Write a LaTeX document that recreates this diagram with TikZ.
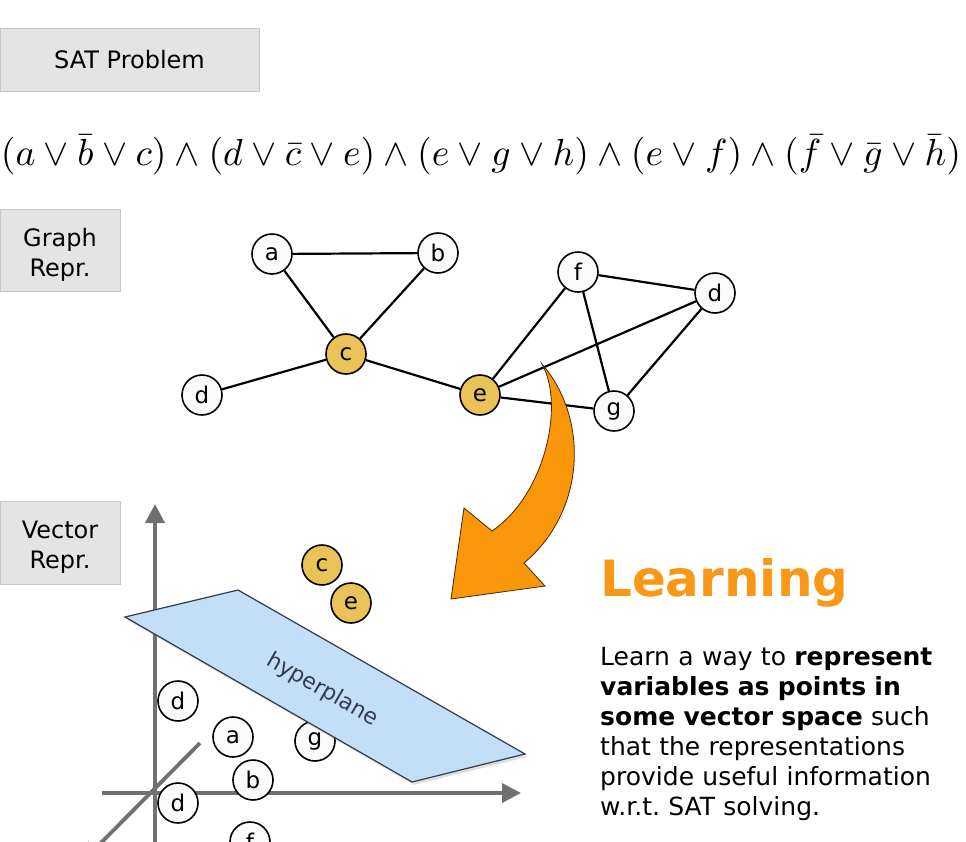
\documentclass[tikz,border=0pt]{standalone}
\usepackage[no-math]{fontspec}
\setmainfont{DejaVu Sans}
\usepackage{amsmath}
\usepackage{amssymb}
\usepackage{graphicx}
\usetikzlibrary{arrows.meta,shadows}
\definecolor{boxgray}{RGB}{228,228,228}
\definecolor{boxline}{RGB}{200,200,200}
\definecolor{gold}{RGB}{233,194,88}
\definecolor{learnorange}{RGB}{248,152,22}
\definecolor{arroworange}{RGB}{250,150,10}
\definecolor{planeblue}{RGB}{195,222,247}
\definecolor{planeline}{RGB}{50,60,75}
\definecolor{axisgray}{RGB}{112,112,112}

\begin{document}
\begin{tikzpicture}[
		x=1pt, y=-1pt,
		var/.style={circle, draw, line width=1.6pt, minimum size=40pt, inner sep=0pt, fill=black!2, font=\fontsize{23}{23}\selectfont},
		hot/.style={var, fill=gold},
		tag/.style={rectangle, draw=boxline, fill=boxgray, line width=1pt, inner sep=0pt, align=center, font=\fontsize{24}{30}\selectfont},
		link/.style={line width=2.2pt},
		axis/.style={draw=axisgray, line width=3.8pt, -{Triangle[length=19pt, width=19pt]}}
	]
  \clip (0,0) rectangle (966,841);
  \node (sat_tag) [tag, minimum width=259pt, minimum height=63pt] at (129.5, 59.5) {SAT Problem};
  \node (graph_tag) [tag, minimum width=120pt, minimum height=82pt] at (60, 250) {\begin{tabular}{@{}c@{}}\rule{0pt}{32pt}Graph\\Repr.\end{tabular}};
  \node (vector_tag) [tag, minimum width=120pt, minimum height=83pt] at (60, 542.5) {\begin{tabular}{@{}c@{}}\rule{0pt}{31pt}Vector\\Repr.\end{tabular}};
  \node (formula) at (481, 155) {\resizebox{960pt}{!}{$(a \vee \bar{b} \vee c) \wedge (d \vee \bar{c} \vee e) \wedge (e \vee g \vee h) \wedge (e \vee f) \wedge (\bar{f} \vee \bar{g} \vee \bar{h})$}};

  \node (g_a) [var] at (272, 254) {a};
  \node (g_b) [var] at (438, 253) {b};
  \node (g_c) [hot] at (346, 354) {c};
  \node (g_d) [var] at (202, 395) {d};
  \node (g_e) [hot] at (480, 395) {e};
  \node (g_f) [var] at (578, 272) {f};
  \node (g_d2) [var] at (715, 293) {d};
  \node (g_g) [var] at (614, 411) {g};
  \draw [link] (g_a) -- (g_b) (g_a) -- (g_c) (g_b) -- (g_c) (g_d) -- (g_c) (g_c) -- (g_e);
  \draw [link] (g_e) -- (g_f) (g_e) -- (g_d2) (g_e) -- (g_g) (g_f) -- (g_d2) (g_f) -- (g_g) (g_d2) -- (g_g);

  \filldraw [fill=arroworange, draw=black!70!orange, line width=0.8pt]
    (542, 364) .. controls (590, 420) and (585, 512) .. (524, 563)
    -- (545, 586) -- (451, 599) -- (464, 508) -- (492, 531)
    .. controls (545, 495) and (565, 405) .. (542, 364) -- cycle;

  \coordinate (origin) at (155, 793);
  \coordinate (y_end) at (155, 504);
  \coordinate (x_end) at (521, 793);
  \coordinate (z_end) at (82, 862);
  \draw [axis] (155, 850) -- (y_end);
  \draw [axis] (102, 793) -- (x_end);
  \draw [axis] (200, 743) -- (z_end);

  \node (v_c) [hot] at (322, 565) {c};
  \node (v_e) [hot] at (351, 603) {e};
  \node (v_d) [var] at (178, 701) {d};
  \node (v_a) [var] at (233, 737) {a};
  \node (v_g) [var] at (315, 741) {g};
  \node (v_b) [var] at (253, 780) {b};
  \node (v_d2) [var] at (178, 803) {d};
  \node (v_f) [var] at (250, 842) {f};

  \filldraw [fill=planeblue, draw=planeline, line width=1.2pt, drop shadow={shadow xshift=2pt, shadow yshift=-3pt, opacity=0.25}]
    (125, 617) -- (238, 590) -- (525, 754) -- (412, 782) -- cycle;
  \node (plane_label) [rotate=-30, text=planeline, font=\fontsize{22}{22}\selectfont] at (322, 690) {hyperplane};

  \node (learn_title) [anchor=base west, inner sep=0pt, text=learnorange, font=\fontsize{50}{50}\selectfont\bfseries] at (600, 596) {Learning};
  \node (learn_text) [anchor=base west, inner sep=0pt, text width=345pt, align=left, font=\fontsize{25}{30}\selectfont] at (600, 665) {Learn a way to \textbf{represent variables as points in some vector space} such that the representations provide useful information w.r.t.\ SAT solving.};
\end{tikzpicture}
\end{document}
